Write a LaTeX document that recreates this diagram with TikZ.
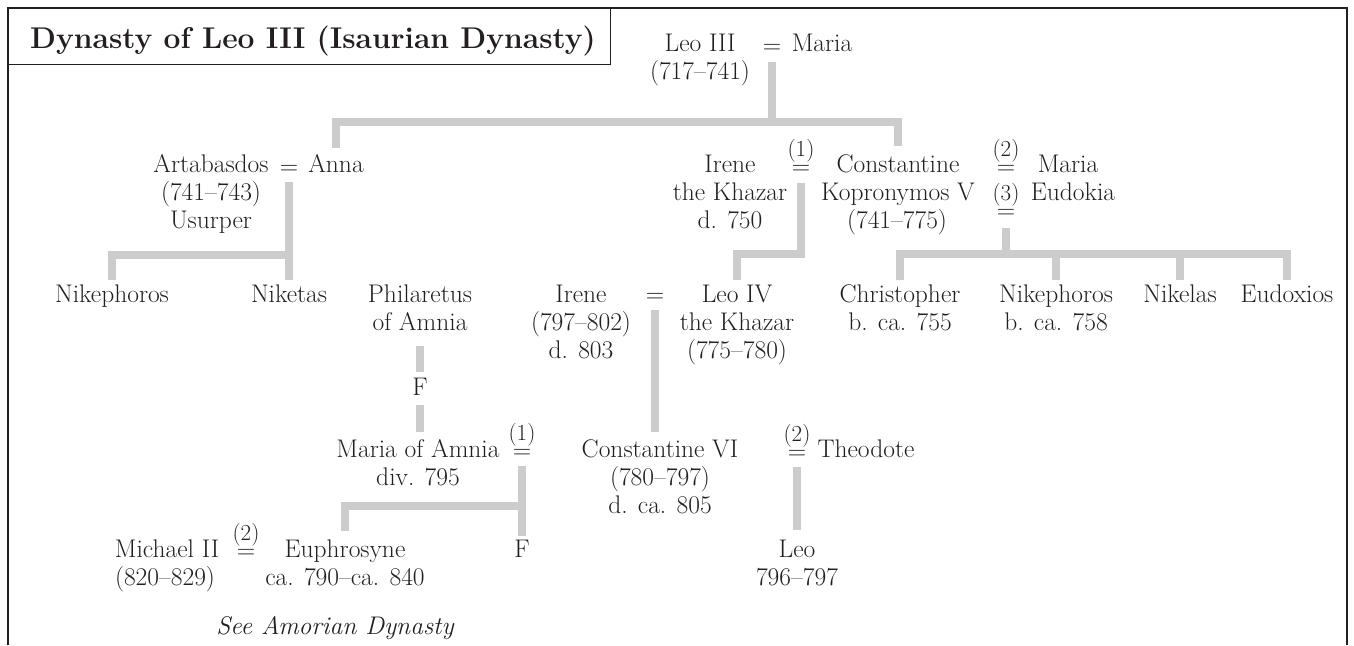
\documentclass[tikz,border=0pt]{standalone}
\usepackage{fontspec}
\definecolor{ink}{HTML}{231F20}
\definecolor{barc}{HTML}{CCCCCC}
\newcommand{\mkeq}[1]{\shortstack{{\fontsize{23}{26}\selectfont(#1)}\\=}}
\tikzset{
  t/.style={inner sep=0pt, anchor=base, text=ink, font=\fontsize{25.5}{28}\selectfont},
  ti/.style={t, font=\fontsize{25.5}{28}\selectfont\itshape},
  bar/.style={draw=barc, line width=8pt},
  frame/.style={draw=ink, line width=2pt},
}
\begin{document}
\begin{tikzpicture}[x=1pt,y=-1pt]
\useasboundingbox (0,0) rectangle (1354,645);
% frame
\draw[frame] (8,645) -- (8,8) -- (1347,8) -- (1347,645);
\node[draw=ink, line width=1.2pt, minimum width=602pt, minimum height=56pt, anchor=north west, inner sep=0pt] (tbox) at (8,8) {};
\node[t, font=\fontsize{30}{34}\selectfont\bfseries] (title) at (313,48) {Dynasty of Leo III (Isaurian Dynasty)};

% Row 1
\node[t] (leo3) at (700,51) {Leo III};
\node[t] (eq0) at (772,53) {=};
\node[t] (maria) at (822,51) {Maria};
\node[t] (leo3d) at (700,79) {(717--741)};

% Row 2 left
\node[t] (artab) at (211,172) {Artabasdos};
\node[t] (eqA) at (289,174) {=};
\node[t] (anna) at (336,172) {Anna};
\node[t] (artabd) at (211,200) {(741--743)};
\node[t] (artabu) at (211,228) {Usurper};

% Row 2 right
\node[t] (ireneK) at (730,172) {Irene};
\node[t] (ireneK2) at (730,200) {the Khazar};
\node[t] (ireneK3) at (730,228) {d. 750};
\node[t] (eq1) at (801,174) {\mkeq{1}};
\node[t] (const5) at (898,172) {Constantine};
\node[t] (const5b) at (898,200) {Kopronymos V};
\node[t] (const5c) at (897,228) {(741--775)};
\node[t] (eq2) at (1006,174) {\mkeq{2}};
\node[t] (maria2) at (1068,172) {Maria};
\node[t] (eq3) at (1006,218) {\mkeq{3}};
\node[t] (eudokia) at (1073,200) {Eudokia};

% Row 3
\node[t] (nik1) at (112,302) {Nikephoros};
\node[t] (niketas) at (289,302) {Niketas};
\node[t] (phil) at (420,302) {Philaretus};
\node[t] (phil2) at (420,330) {of Amnia};
\node[t] (irene) at (581,302) {Irene};
\node[t] (irene2) at (581,330) {(797--802)};
\node[t] (irene3) at (581,358) {d. 803};
\node[t] (eqI) at (655,302) {=};
\node[t] (leo4) at (737,302) {Leo IV};
\node[t] (leo4b) at (737,330) {the Khazar};
\node[t] (leo4c) at (737,358) {(775--780)};
\node[t] (chris) at (900,302) {Christopher};
\node[t] (chris2) at (900,330) {b. ca. 755};
\node[t] (nik2) at (1056,302) {Nikephoros};
\node[t] (nik22) at (1056,330) {b. ca. 758};
\node[t] (nikelas) at (1180,302) {Nikelas};
\node[t] (eudox) at (1287,302) {Eudoxios};

% Row 4
\node[t] (F1) at (420,395) {F};
\node[t] (mariaA) at (418,457) {Maria of Amnia};
\node[t] (mariaA2) at (418,485) {div. 795};
\node[t] (eq4) at (522,458) {\mkeq{1}};
\node[t] (const6) at (660,457) {Constantine VI};
\node[t] (const62) at (660,485) {(780--797)};
\node[t] (const63) at (660,513) {d. ca. 805};
\node[t] (eq5) at (797,459) {\mkeq{2}};
\node[t] (theo) at (866,457) {Theodote};

% Row 5
\node[t] (mich) at (167,557) {Michael II};
\node[t] (michd) at (165,585) {(820--829)};
\node[t] (eq6) at (246,558) {\mkeq{2}};
\node[t] (euph) at (345,557) {Euphrosyne};
\node[t] (euphd) at (345,585) {ca. 790--ca. 840};
\node[t] (F2) at (522,557) {F};
\node[t] (leo) at (797,557) {Leo};
\node[t] (leod) at (797,585) {796--797};
\node[ti] (see) at (335,634) {See Amorian Dynasty};

% bars
\draw[bar] (eq0.center |- 0,62) -- (eq0.center |- 0,122);
\draw[bar] (anna.center |- 0,148) -- (anna.center |- 0,122) -- (const5.center |- 0,122) -- (const5.center |- 0,146);
\draw[bar] (eqA.center |- 0,182) -- (eqA.center |- 0,280);
\draw[bar] (nik1.center |- 0,280) -- (nik1.center |- 0,255) -- (eqA.center |- 0,255);
\draw[bar] (eq1.center |- 0,183) -- (eq1.center |- 0,254) -- (leo4.center |- 0,254) -- (leo4.center |- 0,280);
\draw[bar] (eq3.center |- 0,228) -- (eq3.center |- 0,254);
\draw[bar] (chris.center |- 0,280) -- (chris.center |- 0,254) -- (eudox.center |- 0,254) -- (eudox.center |- 0,280);
\draw[bar] (nik2.center |- 0,254) -- (nik2.center |- 0,280);
\draw[bar] (nikelas.center |- 0,254) -- (nikelas.center |- 0,280);
\draw[bar] (eqI.center |- 0,310) -- (eqI.center |- 0,432);
\draw[bar] (phil2.center |- 0,346) -- (phil2.center |- 0,372);
\draw[bar] (F1.center |- 0,405) -- (F1.center |- 0,432);
\draw[bar] (eq4.center |- 0,466) -- (eq4.center |- 0,536);
\draw[bar] (euph.center |- 0,531) -- (euph.center |- 0,506) -- (eq4.center |- 0,506);
\draw[bar] (eq5.center |- 0,467) -- (eq5.center |- 0,530);
\end{tikzpicture}
\end{document}
